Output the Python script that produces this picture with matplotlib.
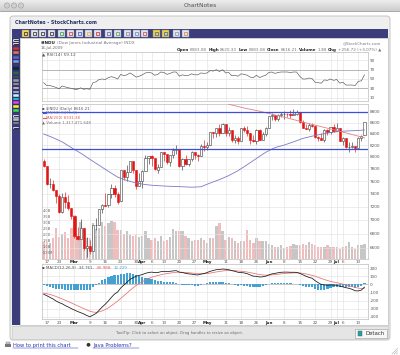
import numpy as np
import pandas as pd
import matplotlib
matplotlib.use("Agg")
import matplotlib.pyplot as plt
from matplotlib.patches import Rectangle, FancyBboxPatch, Circle

W, H = 400, 355

# trading days on the chart (Feb 13 .. Jul 15, 2009)
holidays = ["2009-02-16", "2009-04-10", "2009-05-25", "2009-07-03"]
days = pd.bdate_range("2009-02-13", "2009-07-15")
days = days[~days.isin(pd.to_datetime(holidays))]

opens = [7933, 7845, 7553, 7552, 7462, 7365, 7115, 7349, 7270, 7180,
         7056, 6764, 6727, 6874, 6595, 6625, 6547, 6926, 6930, 7170,
         7224, 7218, 7395, 7486, 7400, 7279, 7775, 7660, 7750, 7924,
         7774, 7522, 7606, 7763, 7978, 8016, 7975, 7789, 7838, 8083,
         8057, 7920, 8029, 8125, 8131, 7841, 7969, 7886, 7957, 8076,
         8025, 8017, 8185, 8168, 8212, 8426, 8410, 8512, 8409, 8574,
         8418, 8469, 8284, 8331, 8268, 8504, 8474, 8422, 8292, 8277,
         8473, 8300, 8404, 8500, 8721, 8740, 8675, 8750, 8763, 8764,
         8763, 8738, 8770, 8799, 8612, 8504, 8497, 8555, 8539, 8339,
         8322, 8299, 8472, 8438, 8529, 8447, 8504, 8280, 8324, 8163,
         8178, 8183, 8146, 8331, 8383]
highs = [7960, 7845, 7647, 7620, 7462, 7400, 7405, 7434, 7380, 7182,
         7056, 6893, 7015, 6874, 6754, 6710, 6927, 7027, 7171, 7233,
         7406, 7396, 7558, 7537, 7426, 7776, 7775, 7860, 7925, 7924,
         7774, 7728, 7787, 8025, 8018, 8030, 7975, 7888, 8083, 8085,
         8057, 8030, 8157, 8197, 8131, 7985, 8027, 7960, 8100, 8076,
         8045, 8222, 8300, 8250, 8427, 8433, 8512, 8587, 8600, 8574,
         8525, 8469, 8380, 8356, 8515, 8546, 8535, 8422, 8376, 8490,
         8488, 8440, 8520, 8733, 8780, 8740, 8765, 8800, 8810, 8790,
         8840, 8860, 8830, 8799, 8650, 8570, 8600, 8600, 8539, 8370,
         8420, 8490, 8490, 8530, 8570, 8600, 8504, 8340, 8330, 8250,
         8265, 8183, 8340, 8375, 8620]
lows = [7830, 7534, 7494, 7447, 7249, 7108, 7110, 7186, 7151, 7011,
        6743, 6704, 6727, 6574, 6470, 6517, 6547, 6845, 6926, 7107,
        7206, 7201, 7340, 7350, 7247, 7279, 7625, 7610, 7748, 7740,
        7468, 7522, 7495, 7763, 7880, 7845, 7780, 7736, 7838, 7940,
        7880, 7840, 7990, 8046, 7830, 7785, 7860, 7850, 7940, 7958,
        7928, 8017, 8110, 8113, 8211, 8324, 8354, 8370, 8408, 8370,
        8371, 8262, 8240, 8226, 8268, 8430, 8370, 8230, 8253, 8227,
        8290, 8285, 8360, 8500, 8660, 8630, 8630, 8700, 8670, 8700,
        8680, 8738, 8750, 8600, 8500, 8480, 8450, 8520, 8320, 8280,
        8290, 8260, 8380, 8400, 8440, 8447, 8270, 8210, 8160, 8087,
        8150, 8085, 8145, 8280, 8383]
closes = [7850, 7553, 7556, 7466, 7366, 7115, 7351, 7271, 7182, 7063,
          6763, 6726, 6876, 6594, 6627, 6547, 6926, 6930, 7170, 7224,
          7217, 7396, 7487, 7401, 7278, 7776, 7660, 7750, 7925, 7776,
          7522, 7609, 7762, 7978, 8018, 7976, 7790, 7837, 8083, 8058,
          7920, 8030, 8125, 8131, 7842, 7970, 7887, 7957, 8076, 8025,
          8016, 8186, 8168, 8212, 8427, 8411, 8512, 8410, 8575, 8419,
          8469, 8285, 8331, 8269, 8504, 8475, 8422, 8292, 8277, 8473,
          8300, 8404, 8500, 8721, 8741, 8675, 8750, 8763, 8764, 8763,
          8739, 8771, 8799, 8612, 8505, 8497, 8556, 8540, 8339, 8323,
          8300, 8472, 8438, 8529, 8447, 8504, 8281, 8325, 8164, 8178,
          8183, 8147, 8332, 8359, 8616]
# volume in billions of shares
volume_b = [1.4, 1.4, 1.3, 1.7, 2.6, 1.8, 2.1, 2.2, 1.7, 2.6,
            3.7, 1.9, 3.1, 2.6, 1.7, 1.7, 3.0, 2.5, 2.6, 3.1,
            2.7, 3.0, 3.2, 3.1, 2.4, 2.4, 2.1, 2.3, 2.0, 1.9,
            2.0, 1.8, 1.9, 2.3, 1.7, 1.6, 1.7, 1.5, 1.9, 1.5,
            1.6, 1.8, 2.5, 2.3, 2.3, 2.3, 1.9, 1.7, 1.5, 1.6,
            1.6, 1.7, 1.6, 1.3, 1.7, 1.7, 2.7, 3.0, 2.3, 1.6,
            1.8, 1.7, 1.5, 1.3, 1.5, 1.45, 2.4, 1.55, 1.3, 1.7,
            1.5, 1.45, 1.45, 1.2, 1.15, 0.95, 0.95, 1.15, 0.87, 0.95,
            1.03, 1.25, 1.15, 1.15, 1.25, 1.15, 1.42, 1.25, 1.15, 1.0,
            1.0, 1.0, 1.15, 1.0, 1.0, 1.0, 0.78, 1.0, 1.1, 1.42,
            1.0, 0.8, 1.15, 1.15, 1.25]
rsi14 = [42, 36, 36, 34, 32, 29, 35, 33, 31, 30,
         28, 28, 31, 28, 29, 28, 42, 44, 49, 50,
         49, 53, 55, 53, 50, 60, 57, 59, 63, 59,
         54, 56, 59, 63, 64, 63, 58, 60, 65, 64,
         60, 62, 65, 65, 56, 59, 57, 58, 61, 59,
         59, 63, 62, 63, 68, 67, 70, 66, 70, 63,
         64, 57, 58, 56, 61, 60, 58, 54, 53, 58,
         53, 56, 58, 64, 65, 62, 64, 65, 65, 65,
         64, 65, 65, 56, 50, 50, 52, 51, 43, 42,
         41, 48, 47, 50, 47, 49, 41, 43, 37, 37,
         37, 36, 45, 46, 59]
macd_line = [-123, -140, -160, -180, -205, -225, -240, -262, -280, -300,
             -318, -335, -350, -365, -385, -400, -380, -360, -320, -280,
             -245, -205, -160, -120, -95, -45, -10, 25, 60, 80,
             100, 110, 120, 135, 145, 150, 145, 145, 155, 160,
             158, 160, 165, 168, 150, 145, 135, 128, 125, 118,
             115, 125, 132, 145, 160, 170, 180, 182, 188, 185,
             180, 168, 160, 148, 145, 140, 130, 115, 100, 98,
             90, 92, 100, 115, 128, 135, 142, 148, 150, 150,
             148, 148, 147, 135, 118, 100, 85, 75, 45, 20,
             -2, -8, -12, -8, -10, -12, -25, -32, -42, -50,
             -62, -80, -82, -72, -35]
macd_signal = [-110, -116, -125, -136, -150, -165, -180, -196, -213, -230,
               -248, -265, -282, -299, -316, -333, -342, -346, -340, -328,
               -311, -290, -264, -235, -207, -175, -142, -109, -75, -44,
               -15, 10, 32, 53, 71, 87, 98, 108, 117, 126,
               132, 138, 143, 148, 148, 148, 146, 142, 139, 135,
               131, 130, 130, 133, 138, 145, 152, 158, 164, 168,
               170, 170, 168, 164, 160, 156, 151, 144, 135, 128,
               120, 115, 112, 113, 116, 120, 124, 129, 133, 136,
               138, 140, 141, 140, 135, 128, 119, 110, 99, 86,
               72, 59, 46, 36, 27, 20, 11, 2, -8, -18,
               -29, -39, -47, -52, -47]
ma50_idx = [0, 3, 6, 9, 12, 15, 18, 21, 24, 27, 30, 33, 36, 39, 42, 45, 48, 51,
            54, 57, 60, 63, 66, 69, 72, 75, 78, 81, 84, 87, 90, 93, 96, 99, 102, 104]
ma50_val = [8400, 8335, 8260, 8160, 8065, 7960, 7860, 7760, 7665, 7610, 7570, 7545,
            7530, 7522, 7515, 7510, 7503, 7510, 7570, 7625, 7690, 7770, 7870, 7975,
            8080, 8160, 8205, 8260, 8320, 8360, 8395, 8425, 8445, 8455, 8462, 8471]
ma200_idx = [60, 65, 70, 75, 80, 85, 90, 95, 100, 104]
ma200_val = [8945, 8875, 8815, 8745, 8675, 8600, 8530, 8462, 8390, 8331]
levels = [8800, 8134]

tick_dates = ["2009-02-17", "2009-02-23", "2009-03-02", "2009-03-09", "2009-03-16",
              "2009-03-23", "2009-03-30", "2009-04-01", "2009-04-06", "2009-04-13",
              "2009-04-20", "2009-04-27", "2009-05-01", "2009-05-11", "2009-05-18",
              "2009-05-26", "2009-06-01", "2009-06-08", "2009-06-15", "2009-06-22",
              "2009-06-29", "2009-07-01", "2009-07-06", "2009-07-13"]
tick_labels = ["17", "23", "Mar", "9", "16", "23", "30", "Apr", "6", "13", "20", "27",
               "May", "11", "18", "26", "Jun", "8", "15", "22", "29", "Jul", "6", "13"]
month_names = ["Mar", "Apr", "May", "Jun", "Jul"]
price_ticks = [6600, 6800, 7000, 7200, 7400, 7600, 7800, 8000, 8200, 8400, 8600, 8800]
rsi_ticks = [10, 30, 50, 70, 90]
macd_ticks = [-400, -300, -200, -100, 0, 100, 200]
vol_ticks = [0.5, 1.0, 1.5, 2.0, 2.5, 3.0, 3.5, 4.0]
vol_tick_labels = ["500M", "1.0B", "1.5B", "2.0B", "2.5B", "3.0B", "3.5B", "4.0B"]

fig = plt.figure(figsize=(W / 100, H / 100), dpi=100)
fig.patch.set_facecolor("white")


def px_axes(x0, y0, x1, y1, z):
    ax = fig.add_axes([x0 / W, 1 - y1 / H, (x1 - x0) / W, (y1 - y0) / H])
    ax.set_zorder(z)
    return ax


def chain(ax, x, y, parts, size, right=False, gap=0.9):
    # parts: (text, colour, weight); written left to right or anchored at the right
    seq = parts[::-1] if right else parts
    s, col, wt = seq[0]
    t = ax.text(x, y, s, color=col, fontweight=wt, fontsize=size,
                ha="right" if right else "left", va="center")
    for s, col, wt in seq[1:]:
        if right:
            t = ax.annotate(s, xy=(0, 0.5), xycoords=t, xytext=(-gap, 0),
                            textcoords="offset points", ha="right", va="center",
                            color=col, fontweight=wt, fontsize=size)
        else:
            t = ax.annotate(s, xy=(1, 0.5), xycoords=t, xytext=(gap, 0),
                            textcoords="offset points", ha="left", va="center",
                            color=col, fontweight=wt, fontsize=size)
    return t


# ---------------- window chrome ----------------
bg = px_axes(0, 0, W, H, -10)
bg.axis("off")
bg.imshow(np.linspace(0.93, 0.80, 30)[:, None], extent=(0, W, 11, 0),
          cmap="gray", vmin=0, vmax=1, aspect="auto")
bg.set_xlim(0, W)
bg.set_ylim(H, 0)
bg.plot([0, W], [11, 11], color="#9a9a9a", lw=0.6)
for cx in (7, 14, 21):
    bg.add_patch(Circle((cx, 5.5), 2.6, fc="#cfcfcf", ec="#9c9c9c", lw=0.4))
bg.text(200, 5.6, "ChartNotes", ha="center", va="center", fontsize=4.2, color="#4d4d4d")

bg.add_patch(FancyBboxPatch((10, 16), 380, 324, boxstyle="round,pad=0,rounding_size=3",
                            fc="#efefef", ec="#bdbdbd", lw=0.6))
bg.text(15, 23, "ChartNotes - StockCharts.com", fontsize=3.4, fontweight="bold",
        color="#23305e", va="center")
navy = "#3b3e7b"
bg.add_patch(Rectangle((11.7, 29.3), 376.5, 8.2, fc=navy, ec="none"))
bg.add_patch(Rectangle((11.7, 37.3), 8.6, 288, fc=navy, ec="none"))
bg.add_patch(Rectangle((20.3, 37.5), 367.4, 287.8, fc="white", ec="#b0b0b0", lw=0.4))

# toolbar buttons
icon_x = [22, 30.5, 39, 48, 58, 66.5, 76, 84.5, 94, 105, 114, 124, 132.5, 141, 153, 162, 173, 182]
icon_c = ["#222222", "#222222", "#222222", "#222222", "#2a9a3a", "#d03030", "#3050c0",
          "#e0b030", "#d02020", "#5060a0", "#50a050", "#8080a0", "#6080c0", "#c04040",
          "#3060d0", "#3060d0", "#8090b0", "#d08040"]
for i, (ix, ic) in enumerate(zip(icon_x, icon_c)):
    face = "#f3d35a" if i == 0 else ("#f0d040" if i in (14, 15) else "#e4e4ec")
    bg.add_patch(Rectangle((ix, 30.4), 7, 6.3, fc=face, ec="#8c8ca0", lw=0.3))
    bg.add_patch(Rectangle((ix + 2, 32.3), 3, 2.5, fc="none", ec=ic, lw=0.5))

# colour swatches on the side bar
sw_y = [40.2, 44.0, 48.6, 52.6, 57.6, 61.4, 64.8, 68.6, 72.8, 76.8, 80.4, 83.8, 88.0,
        92.0, 95.6, 99.0, 102.6, 106.4, 110.6, 116.2, 119.6, 123.0, 127.8]
sw_c = ["#ffffff", "#ffffff", "#e03030", "#f07040", "#5070d0", "#8899cc", "#334488",
        "#222222", "#1a8a3a", "#555555", "#999999", "#aaaaaa", "#f5c9a0", "#a8d0f0",
        "#c8f0f0", "#20e0e0", "#ee40ee", "#f0f040", "#40e040", "#ffffff", "#bbbbbb",
        "#999999", "#ffffff"]
for sy, sc in zip(sw_y, sw_c):
    bg.add_patch(Rectangle((12.8, sy - 1.3), 6.4, 2.8, fc=sc, ec="#20234f", lw=0.3))
    if sc == "#ffffff":
        bg.plot([13.6, 18.4], [sy, sy], color="#111111", lw=0.6)

# status bar and footer
bg.add_patch(Rectangle((11.7, 326.3), 376.5, 12.5, fc="#e5e5e5", ec="#c4c4c4", lw=0.4))
bg.text(180, 332.6, "ToolTip: Click to select an object. Drag handles to resize an object.",
        ha="center", va="center", fontsize=2.7, color="#6a6a6a")
bg.add_patch(Rectangle((355, 329.3), 31.5, 8.8, fc="#f7f7f7", ec="#9a9a9a", lw=0.4))
bg.add_patch(Rectangle((358, 331.2), 4.2, 4.8, fc="#2a9d9d", ec="#1d6f6f", lw=0.3))
bg.text(365, 333.8, "Detach", va="center", fontsize=3.9, color="#333333")

bg.add_patch(Rectangle((5, 343.6), 6, 3.4, fc="#777777", ec="none"))
bg.add_patch(Rectangle((6.2, 341.8), 3.6, 2.0, fc="#cfcfcf", ec="#777777", lw=0.3))
bg.text(13, 345.4, "How to print this chart", va="center", fontsize=3.7, color="#2a35b0")
bg.plot([13, 78], [347.9, 347.9], color="#2a35b0", lw=0.35)
bg.add_patch(Circle((88.5, 344.8), 1.9, fc="#333333", ec="none"))
bg.text(93, 345.4, "Java Problems?", va="center", fontsize=3.7, color="#2a35b0")
bg.plot([93, 138.5], [347.9, 347.9], color="#2a35b0", lw=0.35)
for k in range(3):
    bg.plot([392 + 2.2 * k, 397.5], [354, 348.5 + 2.2 * k], color="#aaaaaa", lw=0.4)

# ---------------- chart panels ----------------
x = np.arange(len(closes))
XL = (-0.62, 105.15)
tick_pos = [days.get_loc(pd.Timestamp(d)) for d in tick_dates]
grid_c = "#e3e3e3"
spine_c = "#bcbcbc"
lab_c = "#555555"
TS = 3.0


def style(ax, yticks, ylabels, show_dates):
    ax.set_xlim(*XL)
    ax.set_xticks(tick_pos)
    ax.set_yticks(yticks)
    ax.set_yticklabels(ylabels)
    ax.minorticks_off()
    ax.yaxis.tick_right()
    ax.tick_params(axis="both", length=0, labelsize=TS, labelcolor=lab_c, pad=1.2)
    if show_dates:
        ax.set_xticklabels(tick_labels)
        for t in ax.get_xticklabels():
            if t.get_text() in month_names:
                t.set_fontweight("bold")
                t.set_color("#222222")
    else:
        ax.set_xticklabels([])
    ax.grid(True, color=grid_c, lw=0.45)
    ax.set_axisbelow(True)
    for sp in ax.spines.values():
        sp.set_color(spine_c)
        sp.set_linewidth(0.5)


# RSI
ax_r = px_axes(41.7, 52, 368, 101, 2)
rsi = np.array(rsi14, float)
ax_r.set_ylim(2.7, 108)
style(ax_r, rsi_ticks, [str(v) for v in rsi_ticks], False)
ax_r.axhline(70, color="#a0a0a0", lw=0.5)
ax_r.axhline(30, color="#a0a0a0", lw=0.5)
ax_r.fill_between(x, rsi, 30, where=rsi < 30, interpolate=True, color="#b86060", lw=0)
ax_r.fill_between(x, rsi, 70, where=rsi > 70, interpolate=True, color="#6070c0", lw=0)
ax_r.plot(x, rsi, color="#555555", lw=0.45)

# price + volume
ax_v = px_axes(41.7, 103.5, 368, 258.6, 1)
ax_p = px_axes(41.7, 103.5, 368, 258.6, 2)
ax_p.patch.set_visible(False)
ax_p.set_yscale("log")
ax_p.set_ylim(6449, 8960)
style(ax_p, price_ticks, [str(v) for v in price_ticks], True)

vol = np.array(volume_b)
o = np.array(opens, float)
c = np.array(closes, float)
hi = np.array(highs, float)
lo = np.array(lows, float)
prev = np.r_[o[0], c[:-1]]
down = c < prev

ax_v.set_xlim(*XL)
ax_v.set_ylim(0, 13.03)
ax_v.axis("off")
ax_v.bar(x, vol, width=0.75, color=np.where(down, "#f1bcbc", "#c6c6c6"), lw=0)

edge = np.where(down, "#e01515", "#3a3a3a")
face = np.where(c < o, edge, "white")
ax_p.vlines(x, lo, hi, colors=edge, lw=0.45, zorder=3)
ax_p.bar(x, np.abs(c - o), bottom=np.minimum(o, c), width=0.72, color=face,
         edgecolor=edge, linewidth=0.4, zorder=4)
ax_p.plot(ma50_idx, ma50_val, color="#7a7ac4", lw=0.6, zorder=5)
ax_p.plot(ma200_idx, ma200_val, color="#e58080", lw=0.6, zorder=5)
for lv in levels:
    ax_p.axhline(lv, color="#3d4fd6", lw=0.9, zorder=6)

for v, lab in zip(vol_ticks, vol_tick_labels):
    ax_v.text(0.004, v, lab, transform=ax_v.get_yaxis_transform(), fontsize=2.6,
              color="#666666", va="center", ha="left")

# MACD
ax_m = px_axes(41.7, 264, 368, 319, 2)
mline = np.array(macd_line, float)
msig = np.array(macd_signal, float)
ax_m.set_ylim(-428, 250)
style(ax_m, macd_ticks, [str(v) for v in macd_ticks], True)
ax_m.axhline(0, color="#b0b0b0", lw=0.45)
ax_m.bar(x, mline - msig, width=0.72, color="#43a2d3", lw=0, zorder=2)
ax_m.plot(x, msig, color="#e87070", lw=0.55, zorder=3)
ax_m.plot(x, mline, color="#151515", lw=0.55, zorder=4)

# ---------------- text over the chart ----------------
fg = px_axes(0, 0, W, H, 10)
fg.set_xlim(0, W)
fg.set_ylim(H, 0)
fg.axis("off")
fg.patch.set_visible(False)

chain(fg, 40.7, 42.8, [("$INDU", "#222222", "bold"),
                       ("(Dow Jones Industrial Average) INDX", "#777777", "normal")], 3.1)
fg.text(40.7, 48.3, "16-Jul-2009", fontsize=2.8, color="#666666", va="center")
fg.text(381, 43.3, "@StockCharts.com", fontsize=2.9, color="#777777", va="center", ha="right")
chain(fg, 381.5, 49.6, [("Open", "#222222", "bold"), ("8383.08", "#777777", "normal"),
                        ("High", "#222222", "bold"), ("8620.33", "#777777", "normal"),
                        ("Low", "#222222", "bold"), ("8383.08", "#777777", "normal"),
                        ("Close", "#222222", "bold"), ("8616.21", "#777777", "normal"),
                        ("Volume", "#222222", "bold"), ("1.3B", "#777777", "normal"),
                        ("Chg", "#222222", "bold"), ("+256.72 (+3.07%) \u25b2", "#777777", "normal")],
      3.0, right=True)

fg.text(42.5, 54.6, "\u25b2 RSI(14) 59.12", fontsize=3.1, color="#555555", va="center")

fg.text(42.5, 108.8, "\u25aa $INDU (Daily) 8616.21", fontsize=2.8, color="#555555", va="center")
fg.plot([42.8, 45.8], [113.2, 113.2], color="#3d4fd6", lw=0.8)
fg.text(46.5, 113.2, "MA(50) 8471.31", fontsize=2.8, color="#7a7ac4", va="center")
fg.plot([42.8, 45.8], [117.6, 117.6], color="#e05a5a", lw=0.8)
fg.text(46.5, 117.6, "MA(200) 8331.38", fontsize=2.8, color="#e05a5a", va="center")
fg.text(42.5, 122.0, "\u25b2 Volume 1,317,471,648", fontsize=2.8, color="#777777", va="center")

chain(fg, 42.5, 268.3, [("\u25aa MACD(12,26,9) -34.761,", "#555555", "normal"),
                        ("-46.988,", "#e05a5a", "normal"),
                        ("12.229", "#43a2d3", "normal")], 2.9)

fig.savefig("out.png", dpi=100)
